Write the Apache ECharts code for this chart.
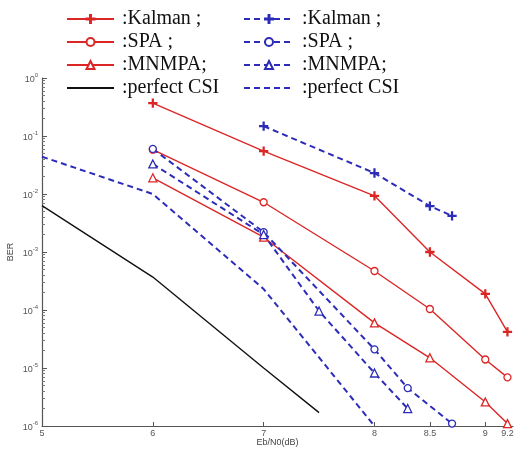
<!DOCTYPE html>
<html>
<head>
<meta charset="utf-8">
<script src="https://cdn.jsdelivr.net/npm/echarts@6/dist/echarts.min.js"></script>
<style>
  html, body { margin: 0; padding: 0; background: #fff; }
  #chart { width: 516px; height: 452px; }
</style>
</head>
<body>
<div id="chart"></div>
<script>
// Eb/N0 (dB) sample points and BER values for each receiver
const kalmanRedX = [6, 7, 8, 8.5, 9, 9.2];
const kalmanRedY = [0.37, 0.055, 0.0093, 1.0e-3, 1.9e-4, 4.2e-5];
const spaRedX = [6, 7, 8, 8.5, 9, 9.2];
const spaRedY = [0.058, 0.0072, 4.7e-4, 1.04e-4, 1.4e-5, 6.9e-6];
const mnmpaRedX = [6, 7, 8, 8.5, 9, 9.2];
const mnmpaRedY = [0.019, 1.8e-3, 6.0e-5, 1.5e-5, 2.6e-6, 1.1e-6];
const csiBlackX = [5, 6, 7, 7.5];
const csiBlackY = [6.3e-3, 3.7e-4, 1.0e-5, 1.7e-6];

const kalmanBlueX = [7, 8, 8.5, 8.7];
const kalmanBlueY = [0.148, 0.023, 0.0062, 0.0042];
const spaBlueX = [6, 7, 8, 8.3, 8.7];
const spaBlueY = [0.06, 2.2e-3, 2.1e-5, 4.5e-6, 1.1e-6];
const mnmpaBlueX = [6, 7, 7.5, 8, 8.3];
const mnmpaBlueY = [0.033, 2.0e-3, 9.6e-5, 8.2e-6, 2.0e-6];
const csiBlueX = [5, 6, 7, 8];
const csiBlueY = [0.044, 0.01, 2.3e-4, 1.0e-6];

// x-axis tick positions
const xTicks = [5, 6, 7, 8, 8.5, 9, 9.2];

// legend labels per series id
const legendText = {
  kR: ':Kalman ;', sR: ':SPA ;', mR: ':MNMPA;', cK: ':perfect CSI',
  kB: ':Kalman ;', sB: ':SPA ;', mB: ':MNMPA;', cB: ':perfect CSI'
};

const RED = '#dc2626';
const BLUE = '#2c2cb8';
const BLACK = '#111111';
const PLUS = 'path://M4.4,0 H5.6 V4.4 H10 V5.6 H5.6 V10 H4.4 V5.6 H0 V4.4 H4.4 Z';
// square-bounded hairline: the legend icon of a marker-less line stays a plain line
const HAIRLINE = 'path://M0,0 M0,100 M0,49.9 H100 V50.1 H0 Z';

// minor ticks of the log axis: 2..9 in every decade
const minorTicks = [];
for (let d = -6; d < 0; d++) {
  for (let m = 2; m <= 9; m++) minorTicks.push(m * Math.pow(10, d));
}

function pairs(xs, ys) {
  return xs.map((x, i) => [x, ys[i]]);
}

function lineSeries(name, xs, ys, color, dashed, symbol, size) {
  const filled = symbol === PLUS || !symbol;
  return {
    name: name,
    type: 'line',
    data: pairs(xs, ys),
    symbol: symbol || HAIRLINE,
    symbolSize: size || 7,
    showSymbol: !!symbol,
    lineStyle: { color: color, width: dashed ? 2 : 1.4, type: dashed ? [6, 4] : 'solid' },
    itemStyle: { color: filled ? color : '#fff', borderColor: color, borderWidth: symbol ? 1.3 : 0 },
    emphasis: { disabled: true },
    z: dashed ? 3 : 2,
    animation: false
  };
}

const chart = echarts.init(document.getElementById('chart'), null, { renderer: 'canvas' });

const legendCommon = {
  orient: 'vertical',
  top: 3,
  itemHeight: 10,
  itemGap: 1,
  selectedMode: false,
  formatter: function (n) { return legendText[n]; },
  lineStyle: { width: 2 },
  textStyle: { fontFamily: 'Liberation Serif', fontSize: 20, color: '#111', lineHeight: 22, padding: [0, 0, 0, 3] }
};

chart.setOption({
  backgroundColor: '#ffffff',
  animation: false,
  legend: [
    Object.assign({}, legendCommon, { left: 61, itemWidth: 47, data: ['kR', 'sR', 'mR', 'cK'] }),
    Object.assign({}, legendCommon, { left: 238, itemWidth: 50, data: ['kB', 'sB', 'mB', 'cB'] })
  ],
  grid: { left: 42, right: 3, top: 78, bottom: 26, containLabel: false, outerBoundsMode: 'none' },
  xAxis: {
    type: 'value',
    min: 5,
    max: 9.25,
    name: 'Eb/N0(dB)',
    nameLocation: 'middle',
    nameGap: 12,
    nameMoveOverlap: false,
    nameTextStyle: { fontFamily: 'Liberation Sans', fontSize: 9, color: '#444' },
    axisLine: { lineStyle: { color: '#555', width: 1.2 } },
    axisTick: { inside: true, length: 4, customValues: xTicks, lineStyle: { color: '#555' } },
    axisLabel: { customValues: xTicks, fontFamily: 'Liberation Sans', fontSize: 9, color: '#555', margin: 3 },
    splitLine: { show: false }
  },
  yAxis: [
    {
      type: 'log',
      logBase: 10,
      min: 1e-6,
      max: 1,
      interval: 1,
      name: 'BER',
      nameLocation: 'middle',
      nameGap: 27,
      nameMoveOverlap: false,
      nameTextStyle: { fontFamily: 'Liberation Sans', fontSize: 9, color: '#444' },
      axisLine: { show: true, lineStyle: { color: '#555', width: 1.2 } },
      axisTick: { inside: true, length: 5, lineStyle: { color: '#555' } },
      axisLabel: {
        margin: 4,
        formatter: function (v) {
          const e = Math.round(Math.log10(v));
          return '{b|10}{s|' + e + '}';
        },
        rich: {
          b: { fontFamily: 'Liberation Sans', fontSize: 9, color: '#555', verticalAlign: 'bottom', lineHeight: 12 },
          s: { fontFamily: 'Liberation Sans', fontSize: 6, color: '#555', verticalAlign: 'top', lineHeight: 12 }
        }
      },
      splitLine: { show: false },
      minorTick: { show: false }
    },
    {
      type: 'log',
      logBase: 10,
      min: 1e-6,
      max: 1,
      position: 'left',
      axisLine: { show: false },
      axisTick: { show: true, inside: true, length: 3, customValues: minorTicks, lineStyle: { color: '#777' } },
      axisLabel: { show: false },
      splitLine: { show: false }
    }
  ],
  series: [
    lineSeries('kR', kalmanRedX, kalmanRedY, RED, false, PLUS, 8),
    lineSeries('sR', spaRedX, spaRedY, RED, false, 'circle', 7),
    lineSeries('mR', mnmpaRedX, mnmpaRedY, RED, false, 'triangle', 8),
    lineSeries('cK', csiBlackX, csiBlackY, BLACK, false, null),
    lineSeries('kB', kalmanBlueX, kalmanBlueY, BLUE, true, PLUS, 8),
    lineSeries('sB', spaBlueX, spaBlueY, BLUE, true, 'circle', 7),
    lineSeries('mB', mnmpaBlueX, mnmpaBlueY, BLUE, true, 'triangle', 8),
    lineSeries('cB', csiBlueX, csiBlueY, BLUE, true, null)
  ]
});
</script>
</body>
</html>
